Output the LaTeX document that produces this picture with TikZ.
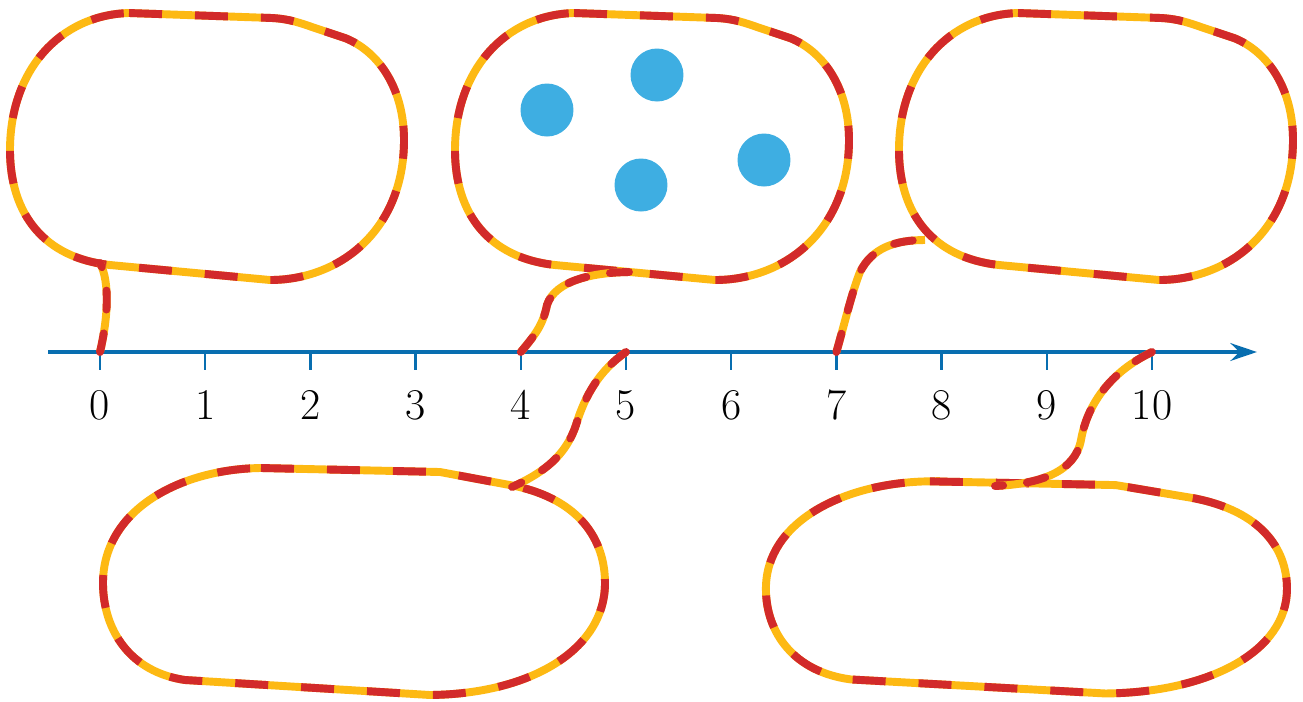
\documentclass[tikz,border=0pt]{standalone}
\usetikzlibrary{arrows.meta}
\definecolor{blobyellow}{RGB}{253,185,19}
\definecolor{blobred}{RGB}{210,42,42}
\definecolor{lineblue}{RGB}{8,110,176}
\definecolor{dotblue}{RGB}{62,174,226}
\newcommand{\topbubble}[1]{%
  \draw[outline, shift={(#1,0)}] (129,13) -- (272,18) .. controls (290,19) and (300,23) .. (312,27) -- (345,38)
    .. controls (380,52) and (404,90) .. (404,140) .. controls (404,230) and (340,280) .. (270,280)
    -- (110,265) .. controls (45,258) and (10,215) .. (10,150) .. controls (10,70) and (60,15) .. cycle;}
\newcommand{\botbubble}[1]{%
  \draw[outline, #1] (261,468) -- (440,472) -- (515,486) .. controls (580,500) and (605,540) .. (605,583)
    .. controls (605,650) and (530,694) .. (430,695) -- (185,680) .. controls (130,672) and (103,630) .. (103,583)
    .. controls (103,510) and (180,469) .. cycle;}
\begin{document}
\begin{tikzpicture}[x=0.02cm, y=-0.02cm,
  outline/.style={draw=blobyellow, line width=4.5pt,
    postaction={draw=blobred, line width=4.5pt, dash pattern=on 0.66cm off 0.66cm}},
  tail/.style={draw=blobyellow, line width=4.5pt,
    postaction={draw=blobred, line width=4.5pt, line cap=round, dash pattern=on 0.38cm off 0.48cm}},
  every node/.style={font=\fontsize{25}{30}\selectfont}]
  \useasboundingbox[fill=white] (0,0) rectangle (1303,701);
  \draw[lineblue, line width=2.6pt, -{Stealth[length=15pt, width=10pt, inset=5pt]}] (48,352) -- (1257,352);
  \foreach \i in {0,...,10} {
    \coordinate (t\i) at ({100+105.2*\i},352);
    \draw[lineblue, line width=1.3pt] (t\i) -- ++(0,18);
    \node[anchor=base] (l\i) at ({100+105.2*\i},419) {\i};
  }
  \topbubble{0}
  \topbubble{445}
  \topbubble{889}
  \botbubble{}
  \botbubble{shift={(659,44)}, xscale=1.038, yscale=0.9345}
  \fill[dotblue] (547,110) circle (0.53cm);
  \fill[dotblue] (657,75) circle (0.53cm);
  \fill[dotblue] (641,185) circle (0.53cm);
  \fill[dotblue] (764,160) circle (0.53cm);
  \coordinate (b0) at (100,263);
  \coordinate (b4) at (632,272);
  \coordinate (b7) at (925,240);
  \coordinate (b5) at (512,487);
  \coordinate (b10) at (995,486);
  \draw[tail] (t0) .. controls (108,318) and (110,282) .. (b0);
  \draw[tail] (t4) .. controls (535,335) and (543,325) .. (547,305) .. controls (555,280) and (595,272) .. (b4);
  \draw[tail] (t7) .. controls (845,322) and (852,292) .. (860,272) .. controls (872,248) and (895,240) .. (b7);
  \draw[tail] (t5) .. controls (600,370) and (585,395) .. (576,425) .. controls (566,455) and (545,472) .. (b5);
  \draw[tail] (t10) .. controls (1110,372) and (1087,405) .. (1081,440) .. controls (1075,472) and (1040,484) .. (b10);
\end{tikzpicture}
\end{document}
